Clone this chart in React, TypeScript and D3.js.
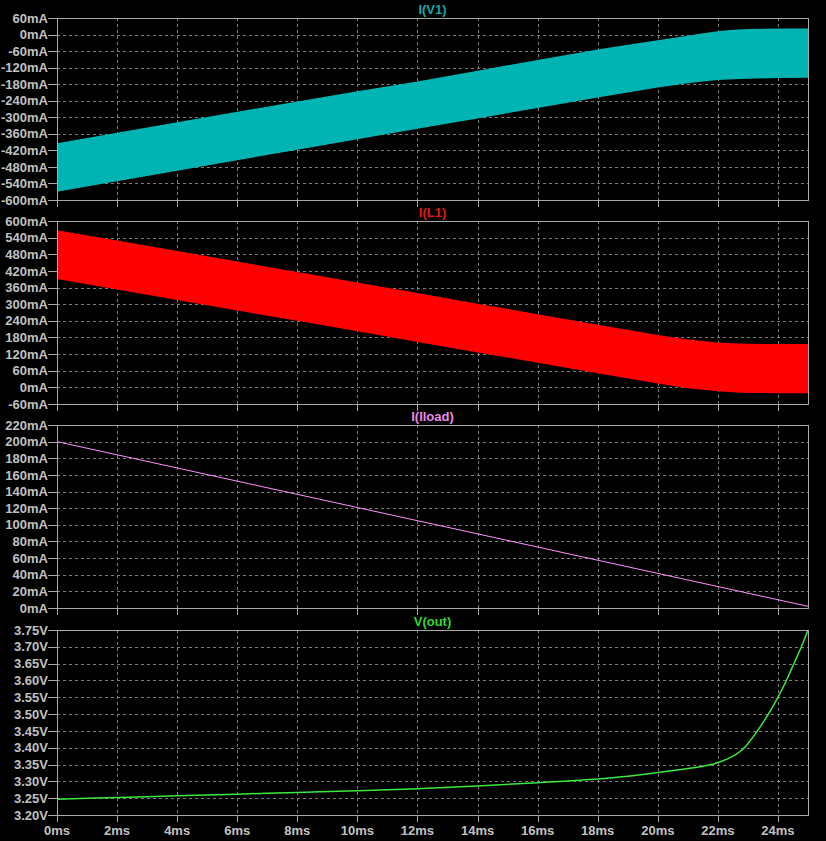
import React from "react";
import * as d3 from "d3";

// ---- data ----
const timeMs = [0, 25];
const xTicks = [0, 2, 4, 6, 8, 10, 12, 14, 16, 18, 20, 22, 24];

const v1Times = [0, 2, 4, 6, 8, 10, 12, 14, 16, 18, 19, 20, 21, 21.5, 22, 22.5, 23, 24, 25];
const v1Upper = [-394, -356, -318, -280, -243, -206, -170, -131, -92, -54, -37, -21, -4, 5, 12, 17, 20, 22, 22];
const v1Lower = [-570, -532, -494, -456, -418, -380, -342, -304, -266, -228, -210, -192, -177, -170, -165, -162, -160, -158, -157];

const l1Times = [0, 2, 4, 6, 8, 10, 12, 14, 16, 18, 20, 21, 21.5, 22, 22.5, 23, 24, 25];
const l1Upper = [567, 530, 492, 454, 416, 378, 340, 302, 264, 226, 189, 173, 167, 162, 159, 157, 156, 156];
const l1Lower = [391, 353, 315, 277, 240, 202, 164, 126, 89, 51, 14, -3, -9, -14, -18, -20, -21, -21];

const iloadValues = [200, 2];

const voutTimes = [0, 2, 4, 6, 8, 10, 12, 14, 16, 18, 19, 20, 21, 21.5, 21.8, 22, 22.3, 22.6, 22.85, 23.07, 23.29, 23.68, 24.01, 24.28, 24.54, 24.78, 25];
const voutValues = [3.247, 3.252, 3.257, 3.262, 3.267, 3.272, 3.278, 3.286, 3.296, 3.307, 3.315, 3.326, 3.338, 3.345, 3.35, 3.356, 3.366, 3.38, 3.397, 3.42, 3.447, 3.5, 3.552, 3.6, 3.652, 3.7, 3.75];

const v1Ticks = [60, 0, -60, -120, -180, -240, -300, -360, -420, -480, -540, -600];
const l1Ticks = [600, 540, 480, 420, 360, 300, 240, 180, 120, 60, 0, -60];
const iloadTicks = [220, 200, 180, 160, 140, 120, 100, 80, 60, 40, 20, 0];
const voutTicks = [3.75, 3.7, 3.65, 3.6, 3.55, 3.5, 3.45, 3.4, 3.35, 3.3, 3.25, 3.2];

const W = 826;
const H = 841;
const X0 = 57;
const X1 = 808;
const FONT = "'Liberation Sans', Arial, sans-serif";
const GRID = "#7c7c7c";
const FRAME = "#a8a8a8";
const LABEL = "#c0c0c0";

const x = d3.scaleLinear().domain([0, 25]).range([X0, X1]);

type Pane = {
  title: string;
  titleColor: string;
  top: number;
  bottom: number;
  domain: [number, number];
  ticks: number[];
  fmt: (v: number) => string;
};

const panes: Pane[] = [
  { title: "I(V1)", titleColor: "#1aa6a6", top: 18, bottom: 200, domain: [-600, 60], ticks: v1Ticks, fmt: (v) => `${v}mA` },
  { title: "I(L1)", titleColor: "#e01818", top: 221, bottom: 404, domain: [-60, 600], ticks: l1Ticks, fmt: (v) => `${v}mA` },
  { title: "I(Iload)", titleColor: "#e88ae8", top: 425, bottom: 608, domain: [0, 220], ticks: iloadTicks, fmt: (v) => `${v}mA` },
  { title: "V(out)", titleColor: "#30d830", top: 630, bottom: 815, domain: [3.2, 3.75], ticks: voutTicks, fmt: (v) => `${v.toFixed(2)}V` },
];

const yScale = (p: Pane) => d3.scaleLinear().domain(p.domain).range([p.bottom, p.top]);

function Frame({ p, last }: { p: Pane; last: boolean }) {
  const y = yScale(p);
  return (
    <g>
      {p.ticks.map((t) => (
        <g key={"h" + t}>
          <line x1={X0} x2={X1} y1={Math.round(y(t)) + 0.5} y2={Math.round(y(t)) + 0.5} stroke={GRID} strokeDasharray="3,3" />
          <line x1={X0 - 9} x2={X0} y1={Math.round(y(t)) + 0.5} y2={Math.round(y(t)) + 0.5} stroke={FRAME} />
          <text x={48} y={y(t)} dy="0.36em" textAnchor="end" fill={LABEL} fontFamily={FONT} fontWeight="bold" fontSize={13}>
            {p.fmt(t)}
          </text>
        </g>
      ))}
      {xTicks.map((t) => (
        <g key={"v" + t}>
          <line x1={Math.round(x(t)) + 0.5} x2={Math.round(x(t)) + 0.5} y1={p.top} y2={p.bottom} stroke={GRID} strokeDasharray="3,3" />
          <line x1={Math.round(x(t)) + 0.5} x2={Math.round(x(t)) + 0.5} y1={p.bottom} y2={p.bottom + 7} stroke={FRAME} />
          {last && (
            <text x={x(t)} y={830} dy="0.36em" textAnchor="middle" fill={LABEL} fontFamily={FONT} fontWeight="bold" fontSize={13}>
              {`${t}ms`}
            </text>
          )}
        </g>
      ))}
      <rect x={X0 + 0.5} y={p.top + 0.5} width={X1 - X0} height={p.bottom - p.top} fill="none" stroke={FRAME} />
      <text x={(X0 + X1) / 2} y={p.top - 9} dy="0.36em" textAnchor="middle" fill={p.titleColor} fontFamily={FONT} fontWeight="bold" fontSize={13}>
        {p.title}
      </text>
    </g>
  );
}

export default function App() {
  const [pV1, pL1, pIl, pVo] = panes;
  const yV1 = yScale(pV1);
  const yL1 = yScale(pL1);
  const yIl = yScale(pIl);
  const yVo = yScale(pVo);

  const bandV1 = d3
    .area<number>()
    .x((_, i) => x(v1Times[i]))
    .y0((_, i) => yV1(v1Lower[i]))
    .y1((_, i) => yV1(v1Upper[i]))(v1Times);
  const bandL1 = d3
    .area<number>()
    .x((_, i) => x(l1Times[i]))
    .y0((_, i) => yL1(l1Lower[i]))
    .y1((_, i) => yL1(l1Upper[i]))(l1Times);
  const lineIl = d3
    .line<number>()
    .x((_, i) => x(timeMs[i]))
    .y((d) => yIl(d))(iloadValues);
  const lineVo = d3
    .line<number>()
    .x((_, i) => x(voutTimes[i]))
    .y((d) => yVo(d))
    .curve(d3.curveMonotoneX)(voutValues);

  return (
    <svg width={W} height={H} style={{ position: "absolute", left: 0, top: 0, display: "block" }}>
      <rect x={0} y={0} width={W} height={H} fill="#000" />
      {panes.map((p, i) => (
        <Frame key={p.title} p={p} last={i === panes.length - 1} />
      ))}
      <path d={bandV1 || ""} fill="#00b4b4" />
      <path d={bandL1 || ""} fill="#ff0000" />
      <path d={lineIl || ""} fill="none" stroke="#ff90ff" strokeWidth={1} />
      <path d={lineVo || ""} fill="none" stroke="#3ce83c" strokeWidth={1.5} />
      {panes.map((p) => (
        <rect key={"f" + p.title} x={X0 + 0.5} y={p.top + 0.5} width={X1 - X0} height={p.bottom - p.top} fill="none" stroke={FRAME} />
      ))}
    </svg>
  );
}
